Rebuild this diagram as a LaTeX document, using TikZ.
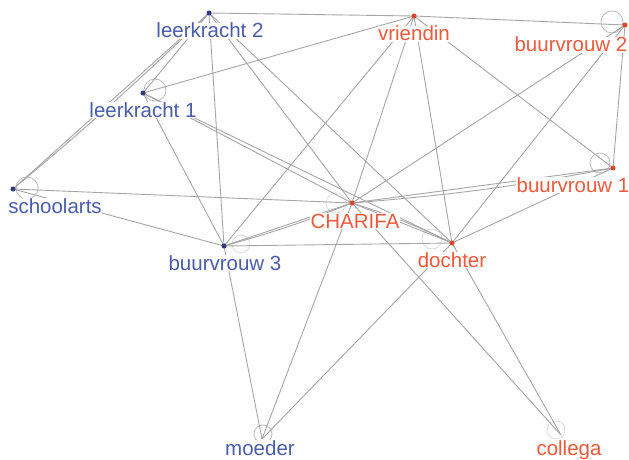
\documentclass[tikz,border=0pt]{standalone}
\usepackage{fontspec}
\setmainfont{Liberation Sans}
\definecolor{lblue}{HTML}{4A5DAA}
\definecolor{lred}{HTML}{EE5A3C}
\definecolor{dblue}{HTML}{2E3A87}
\definecolor{dred}{HTML}{E0452B}
\definecolor{edgegray}{HTML}{A6A6A6}
\definecolor{loopgray}{HTML}{BDBDBD}
\definecolor{loopfaint}{HTML}{DDDDDD}
\begin{document}
\begin{tikzpicture}[x=1pt,y=-1pt,
  edge/.style={draw=edgegray,line width=0.9pt},
  loopc/.style={draw=loopgray,line width=0.8pt},
  loopf/.style={draw=loopfaint,line width=0.8pt},
  lab/.style={font=\fontsize{20.5}{24}\selectfont, anchor=base, inner sep=0.6pt, fill=white},
  bl/.style={lab,text=lblue},
  rd/.style={lab,text=lred},
  bdot/.style={circle,fill=dblue,inner sep=0pt,minimum size=5pt},
  rdot/.style={circle,fill=dred,inner sep=0pt,minimum size=5pt}]
\useasboundingbox[fill=white] (0,0) rectangle (629,460);

% node positions
\coordinate (L2) at (209,13);
\coordinate (V)  at (414,16);
\coordinate (B2) at (625,25);
\coordinate (L1) at (143,93);
\coordinate (B1) at (613,168);
\coordinate (S)  at (13,189);
\coordinate (C)  at (352,203);
\coordinate (B3) at (224,246);
\coordinate (D)  at (452,243);
\coordinate (M)  at (262,439);
\coordinate (Co) at (561,435);

% self loops
\draw[loopc] (155,90) circle (11);
\draw[loopc] (27,188) circle (11);
\draw[loopc] (612,22) circle (11);
\draw[loopc] (600,163) circle (10);
\draw[loopc] (263,434) circle (9);
\draw[loopf] (336,203) circle (10);
\draw[loopf] (241,244) circle (9);
\draw[loopf] (432,239) circle (10);
\draw[loopf] (556,430) circle (9);

% edges
\draw[edge] (L2) -- (V);
\draw[edge] (V) -- (B2);
\draw[edge] (L2) -- (L1);
\draw[edge] (L2) -- (S);
\draw[edge] (L2) to[bend left=2] (S);
\draw[edge] (L2) -- (B3);
\draw[edge] (L2) -- (C);
\draw[edge] (L2) -- (D);
\draw[edge] (L1) -- (V);
\draw[edge] (L1) -- (C);
\draw[edge] (L1) -- (D);
\draw[edge] (L1) -- (B3);
\draw[edge] (V) -- (B3);
\draw[edge] (V) -- (C);
\draw[edge] (V) -- (D);
\draw[edge] (V) -- (B1);
\draw[edge] (B2) -- (B1);
\draw[edge] (B2) -- (C);
\draw[edge] (B2) -- (D);
\draw[edge] (S) -- (C);
\draw[edge] (S) -- (B3);
\draw[edge] (C) -- (B1);
\draw[edge] (C) to[bend right=3] (B1);
\draw[edge] (C) -- (B3);
\draw[edge] (C) to[bend left=3] (B3);
\draw[edge] (C) -- (D);
\draw[edge] (C) to[bend left=4] (D);
\draw[edge] (C) -- (M);
\draw[edge] (C) -- (Co);
\draw[edge] (B3) -- (D);
\draw[edge] (B3) -- (M);
\draw[edge] (D) -- (B1);
\draw[edge] (D) -- (M);
\draw[edge] (D) -- (Co);

% labels
\node[bl] (lL2) at (210,38) {leerkracht 2};
\node[rd] (lV)  at (414,41) {vriendin};
\node[rd] (lB2) at (571,52) {buurvrouw 2};
\node[bl] (lL1) at (143,117) {leerkracht 1};
\node[rd] (lB1) at (573,192) {buurvrouw 1};
\node[bl] (lS)  at (55,213) {schoolarts};
\node[rd] (lC)  at (355,228) {CHARIFA};
\node[bl] (lB3) at (225,270) {buurvrouw 3};
\node[rd] (lD)  at (452,267) {dochter};
\node[bl] (lM)  at (260,455) {moeder};
\node[rd] (lCo) at (569,455) {collega};

% dots
\node[bdot] (dL2) at (L2) {};
\node[rdot] (dV)  at (V) {};
\node[rdot] (dB2) at (B2) {};
\node[bdot] (dL1) at (L1) {};
\node[rdot] (dB1) at (B1) {};
\node[bdot] (dS)  at (S) {};
\node[rdot] (dC)  at (C) {};
\node[bdot] (dB3) at (B3) {};
\node[rdot] (dD)  at (D) {};
\end{tikzpicture}
\end{document}
